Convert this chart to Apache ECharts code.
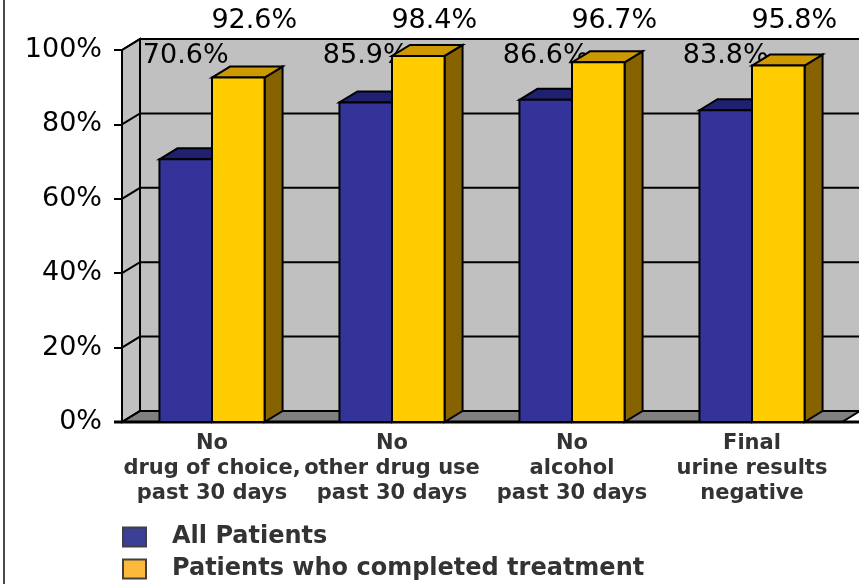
<!DOCTYPE html>
<html>
<head>
<meta charset="utf-8">
<script src="https://cdn.jsdelivr.net/npm/echarts@6/dist/echarts.min.js"></script>
<style>html,body{margin:0;padding:0;background:#fff}#c{width:859px;height:584px}</style>
</head>
<body>
<div id="c"></div>
<script>
var categories = ['No\ndrug of choice,\npast 30 days', 'No\nother drug use\npast 30 days', 'No\nalcohol\npast 30 days', 'Final\nurine results\nnegative'];
var seriesNames = ['All Patients', 'Patients who completed treatment'];
var allPatients = [70.6, 85.9, 86.6, 83.8];
var completed = [92.6, 98.4, 96.7, 95.8];
var yTicks = [0, 20, 40, 60, 80, 100];

var DX = 18, DY = 11;
var VALUE_FONT = '27px "DejaVu Sans"';

function barRenderer(side, cols, labelDx, labelDy) {
  return function (params, api) {
    var idx = api.value(0), val = api.value(1);
    var base = api.coord([idx, 0]);
    var top = api.coord([idx, val]);
    var topAxis = api.coord([idx, yTicks[yTicks.length - 1]]);
    var band = api.size([1, 0])[0];
    var bw = band * 0.292;
    var x0 = side === 0 ? base[0] - bw : base[0];
    var x1 = x0 + bw, yT = top[1], yB = base[1];
    var st = {stroke: '#000', lineWidth: 2, lineJoin: 'miter'};
    return {
      type: 'group',
      children: [
        {type: 'polygon', shape: {points: [[x1, yT], [x1 + DX, yT - DY], [x1 + DX, yB - DY], [x1, yB]]},
          style: Object.assign({fill: cols[2]}, st)},
        {type: 'polygon', shape: {points: [[x0, yT], [x0 + DX, yT - DY], [x1 + DX, yT - DY], [x1, yT]]},
          style: Object.assign({fill: cols[1]}, st)},
        {type: 'rect', shape: {x: x0, y: yT, width: bw, height: yB - yT},
          style: Object.assign({fill: cols[0]}, st)},
        {type: 'text', style: {text: val.toFixed(1) + '%', x: (x0 + x1) / 2 + labelDx, y: topAxis[1] + labelDy,
          fill: '#000', font: VALUE_FONT, align: 'center', verticalAlign: 'middle'}}
      ]
    };
  };
}

function wallRenderer(params, api) {
  var cs = params.coordSys;
  var L = cs.x, T = cs.y, W = cs.width, H = cs.height, B = T + H;
  var st = {stroke: '#000', lineWidth: 2};
  var children = [
    {type: 'rect', shape: {x: L + DX, y: T - DY, width: W, height: H}, style: Object.assign({fill: '#C0C0C0'}, st)},
    {type: 'polygon', shape: {points: [[L, T], [L + DX, T - DY], [L + DX, B - DY], [L, B]]}, style: Object.assign({fill: '#C0C0C0'}, st)},
    {type: 'polygon', shape: {points: [[L, B], [L + DX, B - DY], [L + W + DX, B - DY], [L + W, B]]}, style: Object.assign({fill: '#808080'}, st)}
  ];
  yTicks.forEach(function (v) {
    var y = api.coord([0, v])[1];
    children.push({type: 'polyline', shape: {points: [[L, y], [L + DX, y - DY], [L + DX + W, y - DY]]},
      style: {stroke: '#000', lineWidth: 2, fill: null}});
  });
  children.push({type: 'line', shape: {x1: L - 8, y1: B, x2: L + W + DX, y2: B}, style: {stroke: '#000', lineWidth: 3}});
  return {type: 'group', children: children};
}

var chart = echarts.init(document.getElementById('c'), null, {renderer: 'canvas'});
chart.setOption({
  animation: false,
  backgroundColor: '#fff',
  graphic: [{type: 'line', shape: {x1: 4, y1: 0, x2: 4, y2: 584}, style: {stroke: '#4a4a4a', lineWidth: 2}}],
  grid: {left: 122, top: 50, width: 720, height: 372},
  legend: {
    orient: 'vertical', left: 122, top: 525, width: 600, height: 120, padding: 0, itemWidth: 23, itemHeight: 19, itemGap: 8,
    itemStyle: {borderColor: '#404040', borderWidth: 2},
    textStyle: {fontFamily: 'DejaVu Sans', fontWeight: 'bold', fontSize: 24, lineHeight: 19, color: '#333', padding: [0, 0, 0, 21]},
    data: [{name: seriesNames[0], icon: 'rect'}, {name: seriesNames[1], icon: 'rect'}]
  },
  xAxis: {
    type: 'category', data: categories,
    axisLine: {show: false}, axisTick: {show: false}, splitLine: {show: false},
    axisLabel: {interval: 0, margin: 9, fontFamily: 'DejaVu Sans', fontWeight: 'bold', fontSize: 21, lineHeight: 25, color: '#333'}
  },
  yAxis: {
    type: 'value', min: 0, max: 100, interval: 20,
    axisLine: {show: false}, splitLine: {show: false},
    axisTick: {show: true, length: 8, lineStyle: {color: '#000', width: 2}},
    axisLabel: {formatter: '{value}%', margin: 20, fontFamily: 'DejaVu Sans', fontSize: 27, color: '#000'}
  },
  series: [
    {type: 'custom', name: 'wall', silent: true, z: 1, renderItem: wallRenderer, data: [[0, 0]], encode: {x: 0, y: 1}},
    {type: 'custom', name: seriesNames[0], z: 2, itemStyle: {color: '#3B3F96'},
      renderItem: barRenderer(0, ['#333399', '#202070', '#15154a'], 0, 6),
      data: allPatients.map(function (v, i) { return [i, v]; }), encode: {x: 0, y: 1}},
    {type: 'custom', name: seriesNames[1], z: 3, itemStyle: {color: '#FDB93B'},
      renderItem: barRenderer(1, ['#FFCC00', '#CC9900', '#866300'], 16, -29),
      data: completed.map(function (v, i) { return [i, v]; }), encode: {x: 0, y: 1}}
  ]
});
</script>
</body>
</html>
